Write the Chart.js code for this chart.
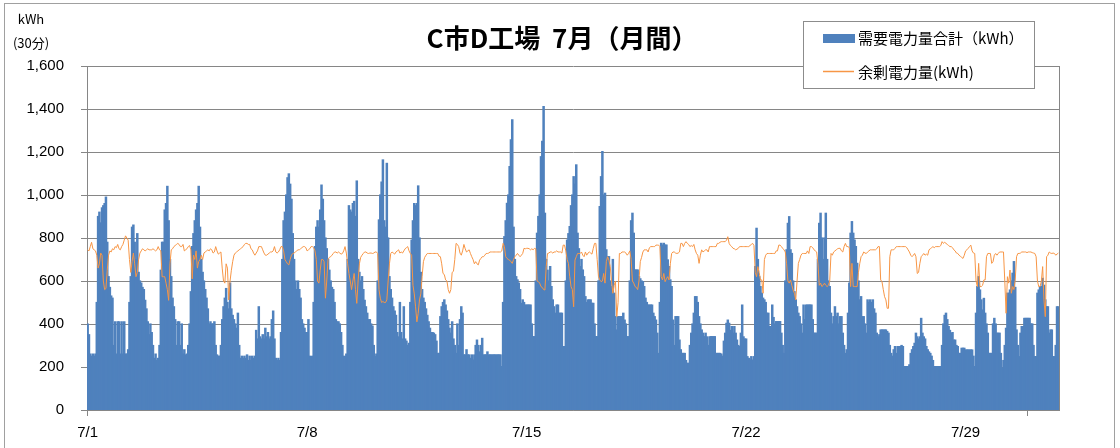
<!DOCTYPE html>
<html lang="ja">
<head>
<meta charset="utf-8">
<title>C市D工場 7月（月間）</title>
<script src="https://cdn.jsdelivr.net/npm/chart.js@4.4.1/dist/chart.umd.min.js"></script>
<style>
  html, body { margin: 0; padding: 0; background: #fff; }
  #wrap { position: relative; width: 1120px; height: 448px; }
</style>
</head>
<body>
<div id="wrap"><canvas id="chart" width="1120" height="448"></canvas></div>
<script>
// 日付と時間（グラフから1時間ごとに読み取った値）
const days = ['7/1','7/2','7/3','7/4','7/5','7/6','7/7','7/8','7/9','7/10','7/11','7/12','7/13','7/14','7/15','7/16',
              '7/17','7/18','7/19','7/20','7/21','7/22','7/23','7/24','7/25','7/26','7/27','7/28','7/29','7/30','7/31'];
const hours = [0,1,2,3,4,5,6,7,8,9,10,11,12,13,14,15,16,17,18,19,20,21,22,23];
const axisLabelDays = ['7/1','7/8','7/15','7/22','7/29'];
const tickMarkDays = ['7/1','7/31'];
const yTicks = [0,200,400,600,800,1000,1200,1400,1600];

// 需要電力量合計（kWh）: 1日24値
const demandKwh = [
  [400,350,260,250,260,250,260,500,900,920,870,940,950,960,990,780,620,570,530,520,300,410,260,410], // 7/1
  [410,260,410,260,410,260,260,280,500,620,850,860,780,700,820,640,600,590,570,560,510,470,410,350],
  [400,360,300,240,260,230,240,300,650,780,780,930,960,1040,880,700,620,520,480,420,300,410,410,300],
  [400,260,280,256,260,300,400,550,760,820,880,930,960,1040,850,700,640,600,560,520,470,400,410,400],
  [400,410,300,256,250,250,300,420,480,520,565,500,470,590,470,440,420,400,380,450,300,240,250,240], // 7/5
  [250,240,256,230,250,230,250,240,250,370,330,480,340,330,350,330,380,340,360,330,340,420,460,330],
  [240,230,240,230,360,700,880,920,1000,1080,1098,1050,980,820,700,600,560,600,560,520,420,400,380,360],
  [360,420,250,248,250,500,760,850,880,850,930,1046,980,880,800,750,700,650,600,570,560,500,420,410],
  [410,400,360,300,250,248,260,700,950,930,920,960,970,900,1065,700,640,600,620,560,510,480,450,420],
  [420,400,390,300,248,260,600,884,1000,1060,1163,880,850,1147,800,620,560,520,480,460,440,360,340,500], // 7/10
  [360,330,480,330,320,300,310,500,790,880,960,950,960,1042,800,640,560,520,500,470,440,410,380,360],
  [360,357,350,320,263,263,434,480,500,512,488,460,420,380,357,410,330,300,263,400,300,420,480,450],
  [256,256,280,256,256,240,256,232,256,300,325,300,270,300,333,256,256,256,270,256,256,256,256,256],
  [256,256,256,256,256,202,500,806,880,961,1000,1132,1256,1349,850,700,620,605,590,560,496,512,500,488],
  [488,488,488,488,400,341,341,600,822,900,1000,1178,1250,1411,915,700,650,600,667,574,512,480,450,488], // 7/15
  [488,450,450,450,295,295,600,790,820,853,950,1000,1085,1050,1140,822,750,667,700,651,620,527,500,512],
  [512,512,496,496,400,341,341,600,946,1085,1202,1000,1008,745,713,713,600,574,700,543,434,372,434,434],
  [434,434,450,418,400,341,341,600,880,915,822,651,651,651,620,610,600,597,574,520,500,488,488,488],
  [488,450,434,418,357,263,500,775,767,775,767,767,698,667,605,574,418,300,434,434,434,325,280,263],
  [263,263,230,217,217,300,357,400,450,527,527,500,434,400,372,357,341,357,340,300,340,341,341,341], // 7/20
  [341,263,263,263,263,260,250,320,357,403,418,403,370,388,357,388,357,325,300,295,357,488,340,330],
  [330,248,240,232,248,232,248,667,845,700,620,574,543,520,512,500,450,450,388,388,488,430,400,411],
  [411,411,411,357,300,263,600,745,868,899,745,728,600,550,512,480,450,434,400,357,488,420,488,488],
  [488,488,488,420,357,357,357,700,868,915,800,700,800,915,700,600,574,450,400,434,480,434,450,400],
  [434,434,357,300,263,280,450,590,822,876,822,790,760,682,600,512,527,434,434,400,357,512,500,512], // 7/25
  [500,512,470,450,357,340,350,372,372,372,372,372,365,357,300,263,250,280,295,263,295,295,295,300],
  [295,202,202,202,202,210,263,280,295,310,357,340,330,340,426,357,340,330,295,280,270,263,250,230],
  [202,202,202,202,202,202,300,400,440,450,420,388,370,357,360,325,325,300,295,263,263,287,287,287],
  [279,279,279,279,279,279,250,202,450,574,620,558,512,465,519,450,400,357,263,263,263,400,426,400],
  [357,357,357,263,194,230,300,380,543,543,558,600,636,690,570,372,300,248,357,388,388,426,426,426], // 7/30
  [426,426,400,400,300,248,248,543,558,574,574,612,580,512,480,480,357,372,372,248,248,300,480,480]
];

// 余剰電力量(kWh): 1日24値
const surplusKwh = [
  [745,740,760,780,750,745,740,720,660,680,730,720,600,560,565,650,720,740,735,750,745,760,755,770], // 7/1
  [750,745,760,770,790,810,800,790,700,640,690,730,680,620,640,700,730,740,750,745,740,745,750,745],
  [745,745,750,745,740,745,760,745,740,620,620,620,590,560,510,680,745,750,760,765,770,775,770,760],
  [760,770,740,745,750,760,765,745,610,720,700,740,660,690,700,720,700,730,735,740,745,740,750,745],
  [730,735,760,740,725,730,735,660,600,590,680,660,512,600,650,690,720,730,735,740,745,750,755,760], // 7/5
  [770,775,775,770,770,750,745,730,720,730,740,760,760,760,745,730,720,720,725,730,735,735,740,760],
  [735,730,735,745,760,760,740,700,690,680,675,700,720,728,730,735,740,745,745,750,755,760,760,755],
  [740,745,750,760,760,755,740,700,600,590,650,700,700,690,520,600,700,710,713,720,728,735,735,730],
  [735,730,725,728,740,760,730,680,635,600,560,600,635,560,496,600,680,710,720,728,735,735,730,728],
  [730,730,728,730,735,735,728,560,520,500,505,500,500,512,600,680,728,735,730,725,735,740,745,730], // 7/10
  [735,730,740,750,755,760,740,728,720,580,540,480,410,450,512,540,620,690,710,720,728,728,728,728],
  [728,728,728,728,728,715,713,680,635,630,605,600,560,543,560,640,645,700,775,770,760,730,720,740],
  [770,750,735,740,745,728,713,700,680,690,680,675,697,705,713,713,720,728,728,730,735,735,735,735],
  [735,735,735,735,735,740,775,760,713,705,700,697,690,682,700,713,720,728,720,713,720,728,752,750],
  [752,752,750,745,750,745,752,750,600,597,590,574,570,560,558,667,728,730,735,735,730,735,735,740], // 7/15
  [735,735,735,730,767,767,740,700,682,620,574,560,480,697,713,728,728,728,735,720,713,735,720,730],
  [735,730,725,752,775,775,700,620,605,597,600,635,590,690,713,697,667,600,543,580,600,434,500,728],
  [728,735,735,735,730,720,728,740,700,600,590,574,570,560,600,690,710,735,745,745,745,735,755,760],
  [760,760,760,767,767,767,760,620,605,635,597,610,620,605,680,728,735,735,730,728,730,735,775,775],
  [760,775,783,775,770,760,765,760,770,745,728,720,682,720,745,735,740,745,745,735,760,760,760,760], // 7/20
  [760,760,775,775,780,783,783,783,783,790,806,775,765,760,752,750,745,748,752,760,760,760,760,760],
  [760,760,760,765,770,775,765,640,620,667,640,605,605,543,700,720,728,728,728,728,728,728,728,740],
  [740,767,767,760,752,745,735,680,600,590,605,580,558,543,512,600,682,700,720,728,728,728,728,740],
  [728,760,760,755,745,740,735,680,580,590,574,580,590,580,574,580,600,728,720,735,740,745,750,752],
  [752,740,735,760,775,760,760,755,574,682,574,574,574,574,640,682,713,720,735,730,728,735,740,745], // 7/25
  [745,745,745,745,750,760,760,605,597,560,527,512,473,473,713,745,745,745,752,760,760,760,760,760],
  [760,760,760,755,745,735,720,713,720,728,713,635,640,682,713,720,728,720,725,720,745,750,755,760],
  [755,760,760,760,760,765,783,775,780,775,770,765,760,760,755,745,740,730,728,720,715,710,705,720],
  [740,745,752,760,767,740,730,728,600,574,682,574,574,580,605,605,713,728,728,728,682,690,720,728],
  [720,728,735,735,735,735,600,450,620,590,651,543,574,560,605,713,728,728,730,735,735,735,735,732], // 7/30
  [735,735,735,732,730,728,713,600,574,574,600,667,512,434,713,720,735,730,728,730,728,720,725,730]
];

const titleText = 'C市D工場  7月（月間）';
const demandName = '需要電力量合計（kWh）';
const surplusName = '余剰電力量(kWh)';

// カテゴリ（日付 + 時刻）
const labels = [];
days.forEach(d => hours.forEach(h => labels.push(d + ' ' + h + ':00')));

function dayOf(index) { return days[Math.floor(index / hours.length)]; }
function hourOf(index) { return hours[index % hours.length]; }

const gridGray = '#868686';
const tickFont = { family: '"Liberation Sans", Arial, sans-serif', size: 15 };

// 枠・タイトル・単位・凡例を描く
const framePlugin = {
  id: 'frame',
  beforeDraw(chart) {
    const c = chart.ctx;
    c.save();
    c.fillStyle = '#fff';
    c.fillRect(0, 0, chart.width, chart.height);
    c.strokeStyle = '#a0a0a0';
    c.lineWidth = 1;
    c.strokeRect(4.5, 3.5, 1110, 460);
    c.restore();
  },
  afterDraw(chart) {
    const c = chart.ctx;
    const area = chart.chartArea;
    c.save();

    // プロットエリア右枠
    c.strokeStyle = gridGray;
    c.lineWidth = 1;
    c.beginPath();
    c.moveTo(Math.round(area.right) + 0.5, area.top);
    c.lineTo(Math.round(area.right) + 0.5, area.bottom);
    c.stroke();

    // タイトル
    c.fillStyle = '#000';
    c.textAlign = 'center';
    c.textBaseline = 'middle';
    c.font = 'bold 26px "Noto Sans CJK JP"';
    c.fillText(titleText, 562, 38);

    // 縦軸の単位
    c.font = '13px "Noto Sans CJK JP"';
    c.fillText('kWh', 31, 19);
    c.fillText('(30分)', 31, 43);

    // 凡例
    c.fillStyle = '#fff';
    c.fillRect(803, 21, 231, 67);
    c.strokeStyle = '#8c8c8c';
    c.strokeRect(803.5, 21.5, 231, 67);

    c.fillStyle = '#4F81BD';
    c.fillRect(823, 34, 32, 9);
    c.strokeStyle = '#F79646';
    c.lineWidth = 1.5;
    c.beginPath();
    c.moveTo(823, 71.5);
    c.lineTo(854, 71.5);
    c.stroke();

    c.fillStyle = '#000';
    c.textAlign = 'left';
    c.font = '15px "Noto Sans CJK JP"';
    c.fillText(demandName, 858, 38);
    c.fillText(surplusName, 858, 72);

    c.restore();
  }
};

new Chart(document.getElementById('chart'), {
  type: 'bar',
  data: {
    labels: labels,
    datasets: [
      {
        type: 'line',
        label: surplusName,
        data: surplusKwh.flat(),
        borderColor: '#F79646',
        borderWidth: 1,
        pointRadius: 0,
        tension: 0,
        fill: false,
        order: 0
      },
      {
        type: 'bar',
        label: demandName,
        data: demandKwh.flat(),
        backgroundColor: '#4F81BD',
        borderWidth: 0,
        barPercentage: 1,
        categoryPercentage: 1,
        inflateAmount: 0.6,
        order: 1
      }
    ]
  },
  options: {
    responsive: false,
    animation: false,
    events: [],
    layout: { padding: { top: 66, right: 61, bottom: 0, left: 0 } },
    plugins: {
      legend: { display: false },
      title: { display: false },
      tooltip: { enabled: false }
    },
    scales: {
      x: {
        offset: true,
        grid: {
          display: true,
          offset: true,
          drawOnChartArea: false,
          drawTicks: true,
          tickLength: 6,
          color: ctx => (ctx.index % hours.length === 0 && tickMarkDays.includes(dayOf(ctx.index))) ? gridGray : 'rgba(0,0,0,0)'
        },
        border: { display: true, color: gridGray },
        ticks: {
          autoSkip: false,
          maxRotation: 0,
          minRotation: 0,
          padding: 8,
          color: '#000',
          font: tickFont,
          callback: (value, index) => {
            const d = dayOf(index);
            return (hourOf(index) === 0 && axisLabelDays.includes(d)) ? d : '';
          }
        },
        afterFit: scale => { scale.height = 38; }
      },
      y: {
        min: yTicks[0],
        max: yTicks[yTicks.length - 1],
        afterBuildTicks: scale => { scale.ticks = yTicks.map(v => ({ value: v })); },
        grid: { color: gridGray, tickLength: 6 },
        border: { display: true, color: gridGray },
        ticks: {
          padding: 17,
          color: '#000',
          font: tickFont,
          callback: v => v.toLocaleString('en-US')
        },
        afterFit: scale => { scale.width = 87; }
      }
    }
  },
  plugins: [framePlugin]
});
</script>
</body>
</html>
